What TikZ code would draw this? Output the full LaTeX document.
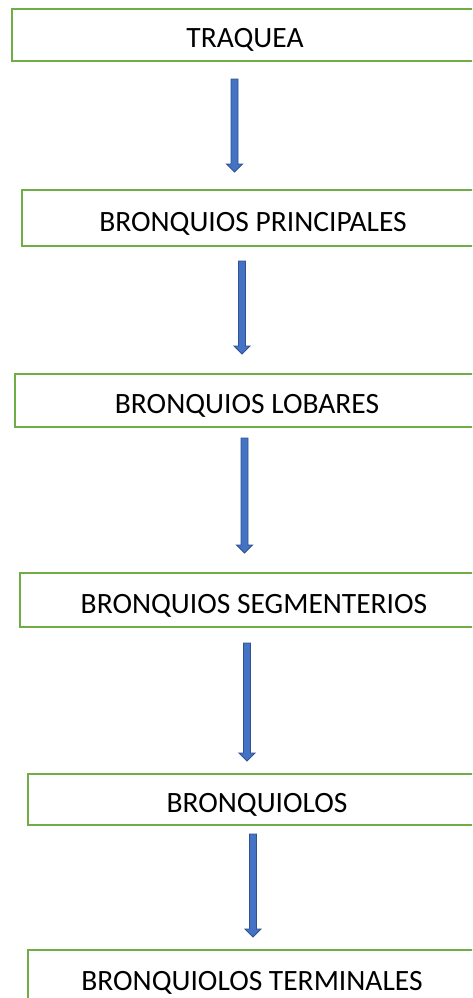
\documentclass[tikz,border=0pt]{standalone}
\usepackage{fontspec}
\setmainfont{Carlito}
\usetikzlibrary{calc}
\definecolor{boxgreen}{HTML}{70AD47}
\definecolor{arrowfill}{HTML}{4472C4}
\definecolor{arrowline}{HTML}{2F528F}
\tikzset{
  levelbox/.style={draw=boxgreen, line width=2.4pt, fill=white, rectangle, inner sep=0pt,
    text height=28pt, text depth=2pt,
    font=\fontsize{29.5}{34}\selectfont, text=black},
  flechastyle/.style={fill=arrowfill, draw=arrowline, line width=0.9pt, line join=miter}
}
\newcommand{\flecha}[2]{%
  \draw[flechastyle] ($(#1)+(-3.5,0)$) -- ($(#1)+(3.5,0)$) -- ($(#2)+(3.5,-8)$) -- ($(#2)+(8,-8)$)
    -- (#2) -- ($(#2)+(-8,-8)$) -- ($(#2)+(-3.5,-8)$) -- cycle;}
\begin{document}
\begin{tikzpicture}[x=1pt,y=-1pt]
\useasboundingbox (0,0) rectangle (472,998);
\clip (0,0) rectangle (472,998);
\node[levelbox, minimum width=466pt, minimum height=52pt] (b1) at (245,35) {TRAQUEA};
\node[levelbox, minimum width=462pt, minimum height=56pt] (b2) at (253,218) {BRONQUIOS PRINCIPALES};
\node[levelbox, minimum width=464pt, minimum height=53pt] (b3) at (247,400.5) {BRONQUIOS LOBARES};
\node[levelbox, minimum width=468pt, minimum height=54pt] (b4) at (254,600) {BRONQUIOS SEGMENTERIOS};
\node[levelbox, minimum width=458pt, minimum height=51pt] (b5) at (257,799.5) {BRONQUIOLOS};
\node[levelbox, minimum width=448pt, minimum height=54pt] (b6) at (252,977) {BRONQUIOLOS TERMINALES};
\coordinate (a1s) at (234.5,79);  \coordinate (a1e) at (234.5,172);
\coordinate (a2s) at (242,261);   \coordinate (a2e) at (242,354);
\coordinate (a3s) at (244.5,438); \coordinate (a3e) at (244.5,553);
\coordinate (a4s) at (247,643);   \coordinate (a4e) at (247,761);
\coordinate (a5s) at (253,834);   \coordinate (a5e) at (253,937);
\flecha{a1s}{a1e}
\flecha{a2s}{a2e}
\flecha{a3s}{a3e}
\flecha{a4s}{a4e}
\flecha{a5s}{a5e}
\end{tikzpicture}
\end{document}
